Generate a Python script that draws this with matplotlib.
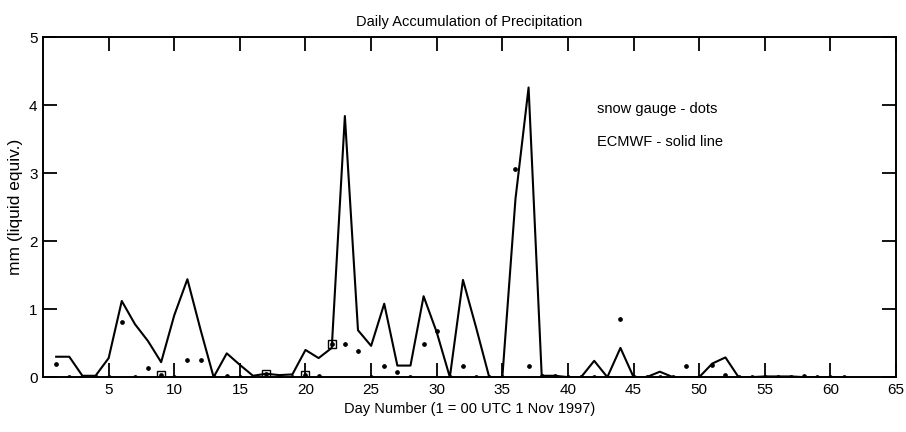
import numpy as np
import matplotlib.pyplot as plt

plt.rcParams['font.family'] = ['Liberation Sans', 'DejaVu Sans']

# ECMWF daily accumulation (solid line), days 1..61
ecmwf_days = list(range(1, 62))
ecmwf_mm = [0.30, 0.30, 0.02, 0.02, 0.28, 1.12, 0.78, 0.53, 0.22, 0.91,
            1.44, 0.70, 0.00, 0.35, 0.18, 0.02, 0.05, 0.03, 0.04, 0.40,
            0.28, 0.43, 3.84, 0.69, 0.46, 1.08, 0.17, 0.17, 1.19, 0.66,
            0.00, 1.43, 0.73, 0.00, 0.00, 2.62, 4.26, 0.02, 0.02, 0.00,
            0.00, 0.24, 0.00, 0.43, 0.00, 0.00, 0.08, 0.00, 0.00, 0.00,
            0.20, 0.29, 0.00, 0.00, 0.01, 0.01, 0.01, 0.00, 0.00, 0.00,
            0.00]

# snow gauge (dots)
gauge_days = list(range(1, 62))
gauge_mm = [0.19, 0.00, 0.00, 0.00, 0.00, 0.81, 0.00, 0.14, 0.03, 0.00,
            0.25, 0.25, 0.00, 0.02, 0.00, 0.00, 0.04, 0.00, 0.00, 0.03,
            0.01, 0.48, 0.48, 0.38, 0.00, 0.17, 0.07, 0.00, 0.48, 0.68,
            0.00, 0.17, 0.00, 0.00, 0.00, 3.06, 0.16, 0.01, 0.01, 0.00,
            0.00, 0.00, 0.00, 0.86, 0.00, 0.00, 0.00, 0.00, 0.16, 0.00,
            0.18, 0.03, 0.00, 0.00, 0.00, 0.00, 0.00, 0.01, 0.00, 0.00,
            0.00]

# days flagged with open squares
box_days = [9, 17, 20, 22]
box_mm = [0.03, 0.04, 0.03, 0.48]

fig = plt.figure(figsize=(9.06, 4.32), dpi=100)
ax = fig.add_axes([0.0475, 0.127, 0.9415, 0.787])

ax.plot(ecmwf_days, ecmwf_mm, color='black', linewidth=1.5)
ax.plot(gauge_days, gauge_mm, 'o', color='black', markersize=2.4, linestyle='none')
ax.plot(box_days, box_mm, 's', markerfacecolor='none', markeredgecolor='black',
        markersize=6, markeredgewidth=1.0, linestyle='none')

ax.set_xlim(0, 65)
ax.set_ylim(0, 5)
ax.set_xticks(range(5, 66, 5))
ax.set_yticks(range(0, 6))
ax.tick_params(direction='in', top=True, right=True, length=10, width=1.3,
               labelsize=11, pad=4)
for s in ax.spines.values():
    s.set_linewidth(1.4)

ax.set_title('Daily Accumulation of Precipitation', fontsize=10.5, pad=8)
ax.set_xlabel('Day Number (1 = 00 UTC 1 Nov 1997)', fontsize=10.5, labelpad=4)
ax.set_ylabel('mm (liquid equiv.)', fontsize=12.5, labelpad=4)

ax.text(42.2, 3.95, 'snow gauge - dots', fontsize=10.5, va='center')
ax.text(42.2, 3.46, 'ECMWF - solid line', fontsize=10.5, va='center')

fig.savefig('out.png', dpi=100)
